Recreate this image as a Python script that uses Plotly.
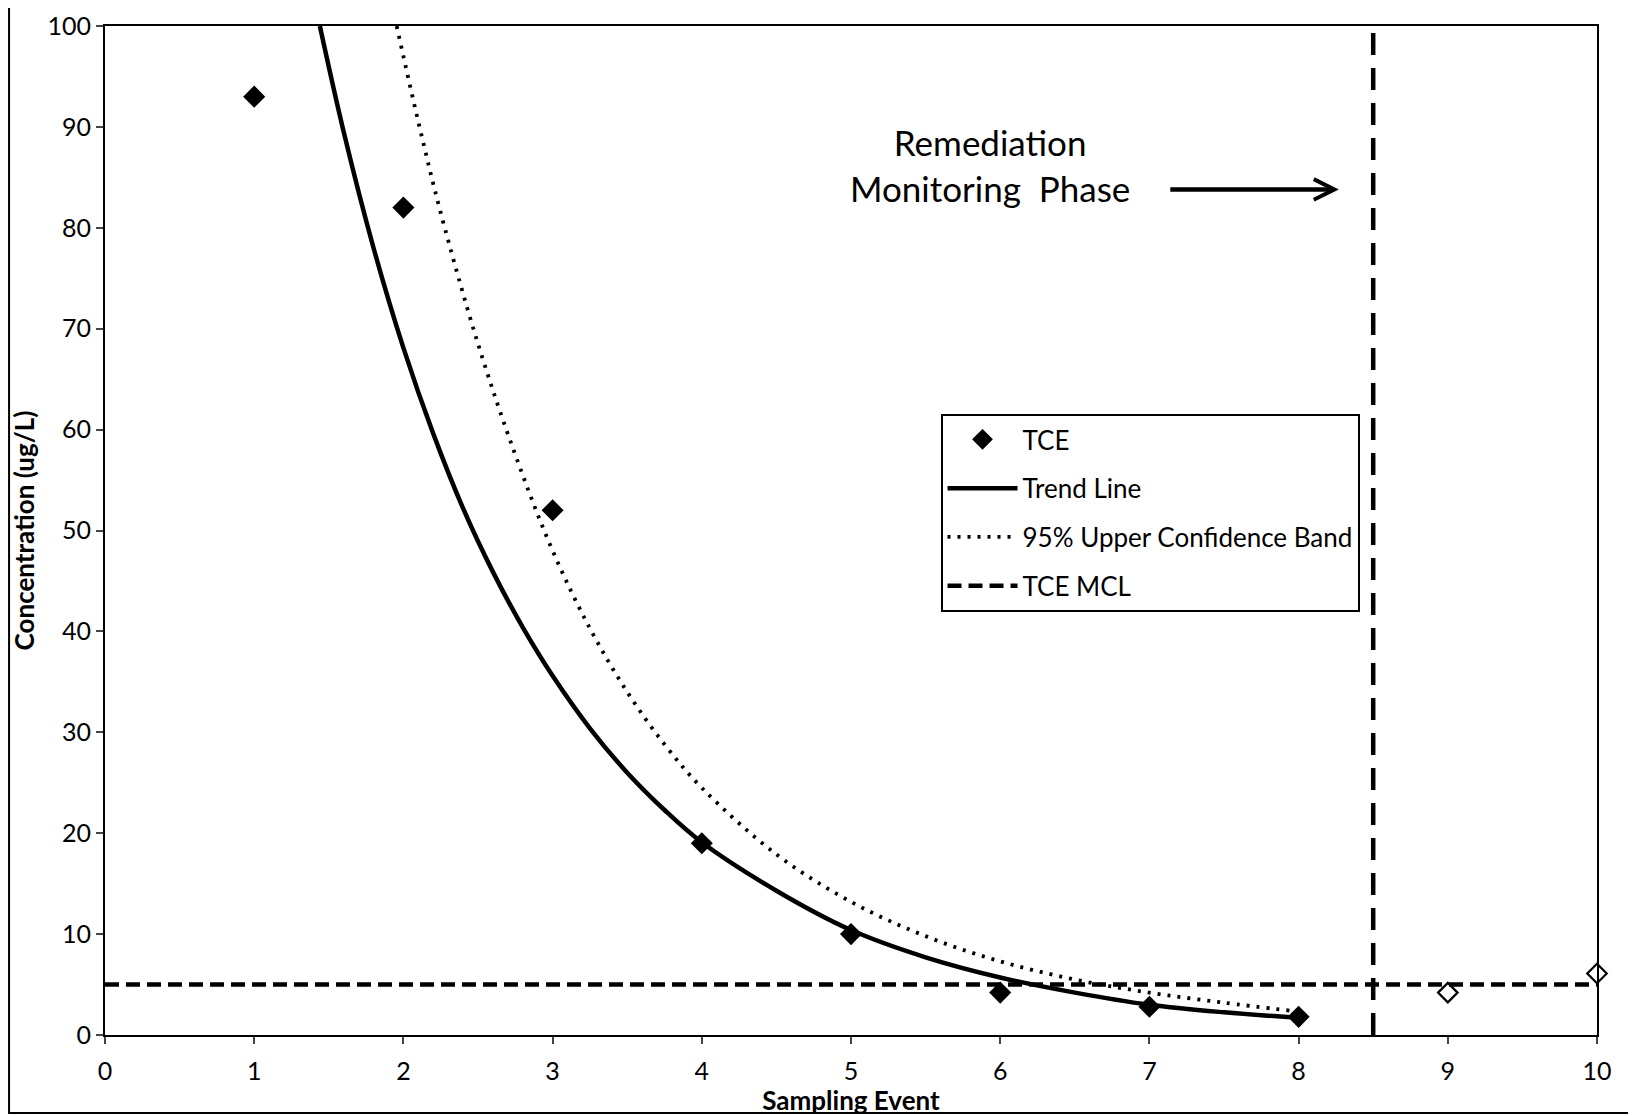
import plotly.graph_objects as go

# ---- data ----
event = [1, 2, 3, 4, 5, 6, 7, 8]
tce = [93, 82, 52, 19, 10, 4.2, 2.8, 1.8]

post_event = [9, 10]
post_tce = [4.2, 6.1]

trend_x = [1.44, 1.6, 1.8, 2.0, 2.2, 2.4, 2.6, 2.8, 3.0, 3.25, 3.5, 3.75, 4.0, 4.5, 5.0, 5.5, 6.0, 6.5, 7.0, 7.5, 8.0]
trend_y = [100, 89.5, 78, 68.1, 59.6, 52.2, 45.9, 40.4, 35.6, 30.4, 26.0, 22.3, 19.1, 14.3, 10.4, 7.7, 5.7, 4.2, 3.0, 2.25, 1.7]

ucb_x = [1.955, 2.1, 2.25, 2.5, 2.75, 3.0, 3.25, 3.5, 3.75, 4.0, 4.5, 5.0, 5.5, 6.0, 6.5, 7.0, 7.5, 7.95]
ucb_y = [100, 90.5, 81.5, 68.5, 57.5, 48, 40.3, 34, 28.8, 24.5, 17.9, 13.2, 9.8, 7.3, 5.5, 4.2, 3.2, 2.4]

mcl_x = [0, 10]
mcl_y = [5, 5]

phase_boundary = 8.5

x_ticks = list(range(0, 11))
y_ticks = list(range(0, 101, 10))

FONT = "Lato"

fig = go.Figure()

fig.add_trace(go.Scatter(
    x=event, y=tce, mode="markers", name="TCE", legendgroup="a",
    marker=dict(symbol="diamond", size=17, color="black"),
))
fig.add_trace(go.Scatter(
    x=trend_x, y=trend_y, mode="lines", name="Trend Line", legendgroup="b",
    line=dict(color="black", width=4.5, shape="spline", smoothing=1),
))
fig.add_trace(go.Scatter(
    x=ucb_x, y=ucb_y, mode="lines", name="95% Upper Confidence Band", legendgroup="c",
    line=dict(color="black", width=3.8, dash="3px,7px", shape="spline", smoothing=1),
))
fig.add_trace(go.Scatter(
    x=mcl_x, y=mcl_y, mode="lines", name="TCE MCL", legendgroup="d",
    line=dict(color="black", width=4.5, dash="14px,7px"),
))
fig.add_trace(go.Scatter(
    x=post_event, y=post_tce, mode="markers", showlegend=False,
    marker=dict(symbol="diamond-open", size=15, color="black", line=dict(width=2.2)),
    cliponaxis=False,
))

# vertical phase boundary
fig.add_shape(type="line", xref="x", yref="paper", x0=phase_boundary, x1=phase_boundary,
              y0=0, y1=1, line=dict(color="black", width=4.5, dash="22px,13px"))

# outer frame of the picture
fig.add_shape(type="rect", xref="paper", yref="paper",
              x0=-0.0643, x1=1.0241, y0=-0.0773, y1=1.05,
              line=dict(color="black", width=2))

fig.add_annotation(
    x=5.93, y=86.2, xref="x", yref="y",
    text="Remediation<br>Monitoring  Phase", showarrow=False,
    font=dict(family=FONT, size=35, color="black"), align="center",
)
fig.add_annotation(
    x=8.27, y=83.8, ax=7.13, ay=83.8, xref="x", yref="y", axref="x", ayref="y",
    text="", showarrow=True, arrowhead=5, arrowsize=0.9, arrowwidth=4.5, arrowcolor="black",
)

fig.update_layout(
    width=1628, height=1108,
    margin=dict(l=97, r=39, t=18, b=81, autoexpand=False),
    paper_bgcolor="white", plot_bgcolor="white",
    font=dict(family=FONT, size=25, color="black"),
    showlegend=True,
    legend=dict(
        x=0.560, y=0.6155, xanchor="left", yanchor="top",
        bgcolor="white", bordercolor="black", borderwidth=2,
        font=dict(family=FONT, size=26, color="black"),
        tracegroupgap=12, itemwidth=70,
    ),
    xaxis=dict(
        range=[0, 10], tickvals=x_ticks, ticks="outside", ticklen=7, tickwidth=2,
        showline=True, linecolor="black", linewidth=2, mirror=True,
        showgrid=False, zeroline=False, automargin=False,
        ticklabelstandoff=6, ticklabeloverflow="allow",
        tickfont=dict(family=FONT, size=25),
        title=dict(text="<b>Sampling Event</b>", font=dict(family=FONT, size=26), standoff=3),
    ),
    yaxis=dict(
        range=[0, 100], tickvals=y_ticks, ticks="outside", ticklen=7, tickwidth=2,
        showline=True, linecolor="black", linewidth=2, mirror=True,
        showgrid=False, zeroline=False, automargin=False,
        ticklabeloverflow="allow",
        tickfont=dict(family=FONT, size=25),
        title=dict(text="<b>Concentration (ug/L)</b>", font=dict(family=FONT, size=26), standoff=18),
    ),
)

fig.write_html("out.html")
